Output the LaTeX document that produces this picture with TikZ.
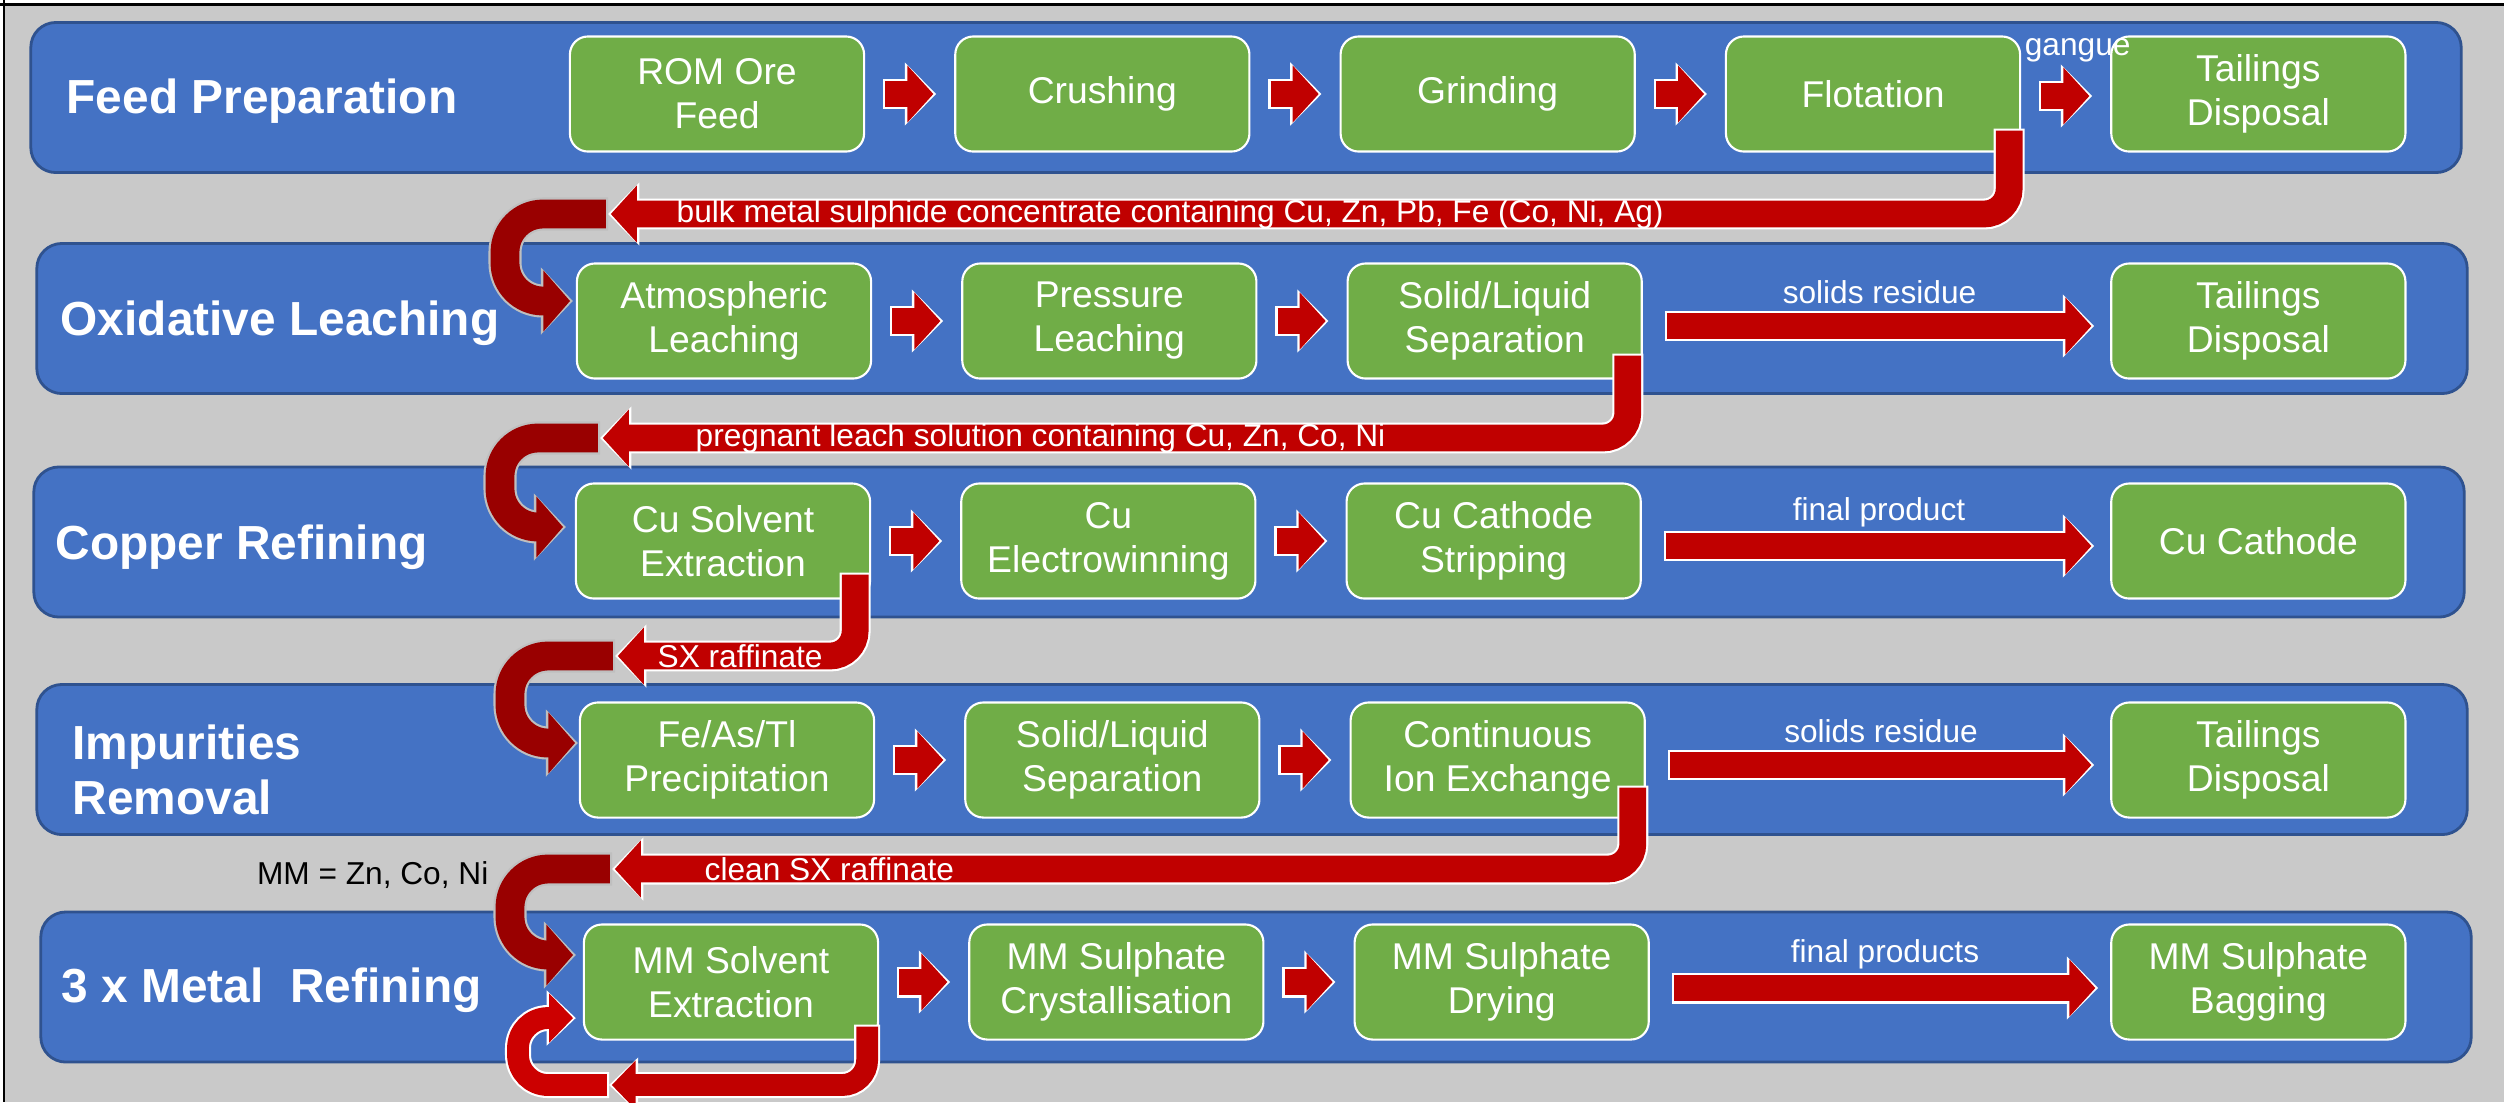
\documentclass[tikz,border=0pt]{standalone}
\usepackage{fontspec}
\setmainfont{Liberation Sans}
\usetikzlibrary{arrows.meta, positioning, calc}

\definecolor{bggray}{HTML}{C9C9C9}
\definecolor{bandblue}{HTML}{4472C4}
\definecolor{bandline}{HTML}{2F528F}
\definecolor{boxgreen}{HTML}{70AD47}
\definecolor{arrred}{HTML}{C00000}
\definecolor{backred}{HTML}{990000}
\definecolor{loopred}{HTML}{CC0000}
\definecolor{edgegray}{HTML}{BFBFBF}

\begin{document}
\begin{tikzpicture}[
        x=0.01cm, y=-0.01cm,
        font=\fontsize{10.6}{12.5}\selectfont,
        node distance=8.9mm,
        band/.style={draw=bandline, line width=0.8pt, fill=bandblue, rounded corners=2.5mm, minimum width=24.29cm, minimum height=1.5cm},
        box/.style={draw=white, line width=0.6pt, fill=boxgreen, text=white, rounded corners=1.8mm, minimum width=2.94cm, minimum height=1.15cm, align=center, inner sep=2pt},
        stage/.style={font=\fontsize{13.6}{15.6}\selectfont\bfseries, text=white, align=left, inner sep=0pt},
        lbl/.style={font=\fontsize{9}{10.8}\selectfont, text=white, inner sep=0pt},
        flow/.style={draw=arrred, line width=7.6pt, -{Triangle[length=7.4pt, width=15.8pt]}, shorten >=0.8pt, shorten <=0.6pt,
            preaction={draw=white, line width=8.8pt, -{Triangle[length=8.9pt, width=17.4pt]}, shorten >=0pt, shorten <=0pt}},
        back/.style={draw=backred, line width=8.2pt, -{Triangle[length=7.6pt, width=17pt]}, shorten >=0.8pt, shorten <=0.6pt,
            preaction={draw=edgegray, line width=9.4pt, -{Triangle[length=9.1pt, width=18.6pt]}, shorten >=0pt, shorten <=0pt}},
        recyc/.style={draw=loopred, line width=6.2pt, -{Triangle[length=6.8pt, width=13.6pt]}, shorten >=0.8pt, shorten <=0.6pt,
            preaction={draw=white, line width=7.4pt, -{Triangle[length=8.3pt, width=15.2pt]}, shorten >=0pt, shorten <=0pt}}
    ]
        \useasboundingbox (0,0) rectangle (2504,1102);
        \clip (0,0) rectangle (2504,1102);
        % --- background ---
        \fill[white] (0,0) rectangle (2504,1102);
        \fill[bggray] (5,5) rectangle (2504,1102);
        \draw[line width=0.85pt] (0,4) -- (2504,4);
        \draw[line width=0.85pt] (4,0) -- (4,1102);

        % --- stage bands ---
        \node[band] (band1) at (1246,97.5) {};
        \node[band] (band2) at (1252,318.5) {};
        \node[band] (band3) at (1249,542) {};
        \node[band] (band4) at (1252,759.5) {};
        \node[band] (band5) at (1256,987) {};
        \node[stage, anchor=base west] (feedttl) at (66,113) {Feed Preparation};
        \node[stage, anchor=base west] (leachttl) at (60,335) {Oxidative Leaching};
        \node[stage, anchor=base west] (cuttl) at (55,559) {Copper Refining};
        \node[stage, anchor=west] (impttl) at (72,770) {Impurities\\Removal};
        \node[stage, anchor=base west] (mmttl) at (61,1002) {3 x Metal\ \ Refining};

        % --- Feed Preparation ---
        \node[box] (rom) at (717,94) {ROM Ore\\Feed};
        \node[box, right=of rom] (crush) {Crushing};
        \node[box, right=of crush] (grind) {Grinding};
        \node[box, right=of grind] (flot) {Flotation};
        \node[box, right=of flot] (tail1) {Tailings\\Disposal};
        % --- Oxidative Leaching ---
        \node[box] (atm) at (724,321) {Atmospheric\\Leaching};
        \node[box, right=of atm] (pres) {Pressure\\Leaching};
        \node[box, right=of pres] (sls1) {Solid/Liquid\\Separation};
        \node[box] (tail2) at (tail1 |- atm) {Tailings\\Disposal};
        % --- Copper Refining ---
        \node[box] (cusx) at (723,541) {Cu Solvent\\Extraction};
        \node[box, right=of cusx] (cuew) {Cu\\Electrowinning};
        \node[box, right=of cuew] (strip) {Cu Cathode\\Stripping};
        \node[box] (cathode) at (tail1 |- cusx) {Cu Cathode};
        % --- Impurities Removal ---
        \node[box] (prec) at (727,760) {Fe/As/Tl\\Precipitation};
        \node[box, right=of prec] (sls2) {Solid/Liquid\\Separation};
        \node[box, right=of sls2] (cix) {Continuous\\Ion Exchange};
        \node[box] (tail4) at (tail1 |- prec) {Tailings\\Disposal};
        % --- 3 x Metal Refining ---
        \node[box] (mmsx) at (731,982) {MM Solvent\\Extraction};
        \node[box, right=of mmsx] (cryst) {MM Sulphate\\Crystallisation};
        \node[box, right=of cryst] (dry) {MM Sulphate\\Drying};
        \node[box] (bag) at (tail1 |- mmsx) {MM Sulphate\\Bagging};

        % --- arrows within the stages ---
        \draw[flow] ($(rom.east)+(18,0)$) -- ($(crush.west)+(-18,0)$);
        \draw[flow] ($(crush.east)+(18,0)$) -- ($(grind.west)+(-18,0)$);
        \draw[flow] ($(grind.east)+(18,0)$) -- ($(flot.west)+(-18,0)$);
        \draw[flow] ($(flot.east)+(18,2)$) -- ($(tail1.west)+(-18,2)$)
            node[lbl, midway, xshift=1.2mm, yshift=4.6mm] {gangue};
        \draw[flow] ($(atm.east)+(18,0)$) -- ($(pres.west)+(-18,0)$);
        \draw[flow] ($(pres.east)+(18,0)$) -- ($(sls1.west)+(-18,0)$);
        \draw[flow] ($(sls1.east)+(22,5)$) -- ($(tail2.west)+(-16,5)$)
            node[lbl, midway, yshift=3.4mm] {solids residue};
        \draw[flow] ($(cusx.east)+(18,0)$) -- ($(cuew.west)+(-18,0)$);
        \draw[flow] ($(cuew.east)+(18,0)$) -- ($(strip.west)+(-18,0)$);
        \draw[flow] ($(strip.east)+(22,5)$) -- ($(cathode.west)+(-16,5)$)
            node[lbl, midway, yshift=3.4mm] {final product};
        \draw[flow] ($(prec.east)+(18,0)$) -- ($(sls2.west)+(-18,0)$);
        \draw[flow] ($(sls2.east)+(18,0)$) -- ($(cix.west)+(-18,0)$);
        \draw[flow] ($(cix.east)+(22,5)$) -- ($(tail4.west)+(-16,5)$)
            node[lbl, midway, yshift=3.4mm] {solids residue};
        \draw[flow] ($(mmsx.east)+(18,0)$) -- ($(cryst.west)+(-18,0)$);
        \draw[flow] ($(cryst.east)+(18,0)$) -- ($(dry.west)+(-18,0)$);
        \draw[flow] ($(dry.east)+(22,6)$) -- ($(bag.west)+(-12,6)$)
            node[lbl, midway, yshift=3.4mm] {final products};

        % --- transfers between the stages ---
        \coordinate (j1) at (608,214);
        \coordinate (j2) at (600,438);
        \coordinate (j3) at (615,656);
        \coordinate (j4) at (612,869);
        \coordinate (j5) at (609,1085);
        \draw[flow, rounded corners=2.5mm] ($(flot.south east)+(-12,-24)$) |- (j1);
        \draw[back, rounded corners=3.8mm] (j1) -- ++(-103,0) |- ($(atm.west)+(-3,-20)$);
        \node[lbl, anchor=west] (conclbl) at ($(j1)+(68,0)$) {bulk metal sulphide concentrate containing Cu, Zn, Pb, Fe (Co, Ni, Ag)};
        \draw[flow, rounded corners=2.5mm] ($(sls1.south east)+(-15,-26)$) |- (j2);
        \draw[back, rounded corners=3.8mm] (j2) -- ++(-100,0) |- ($(cusx.west)+(-9,-14)$);
        \node[lbl, anchor=west] (plslbl) at ($(j2)+(95,0)$) {pregnant leach solution containing Cu, Zn, Co, Ni};
        \draw[flow, rounded corners=2.5mm] ($(cusx.south east)+(-16,-27)$) |- (j3);
        \draw[back, rounded corners=3.8mm] (j3) -- ++(-105,0) |- ($(prec.west)+(-1,-17)$);
        \node[lbl, anchor=west] (rafflbl) at ($(j3)+(42,0)$) {SX raffinate};
        \draw[flow, rounded corners=2.5mm] ($(cix.south east)+(-13,-33)$) |- (j4);
        \draw[back, rounded corners=3.8mm] (j4) -- ++(-102,0) |- ($(mmsx.west)+(-7,-27)$);
        \node[lbl, anchor=west] (cleanlbl) at ($(j4)+(92,0)$) {clean SX raffinate};
        \node[lbl, anchor=east, text=black] (mmnote) at ($(j4)+(-123,6)$) {MM = Zn, Co, Ni};
        % recycle round the MM solvent extraction
        \draw[recyc, draw=arrred, rounded corners=2.5mm] ($(mmsx.south east)+(-12,-16)$) |- (j5);
        \draw[recyc, rounded corners=3mm] (j5) -- ++(-91,0) |- ($(mmsx.west)+(-7,36)$);
    \end{tikzpicture}
\end{document}
